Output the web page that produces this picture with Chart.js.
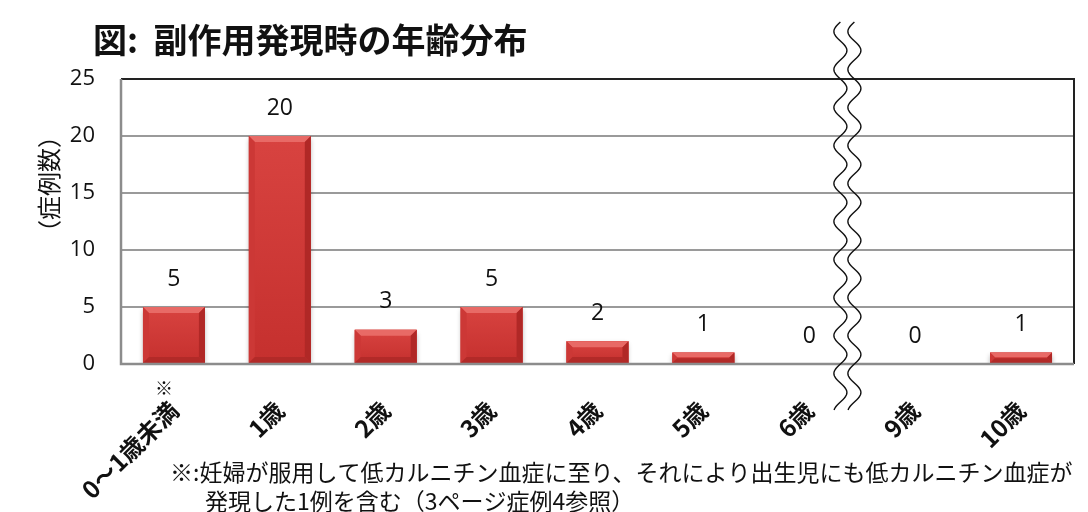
<!DOCTYPE html>
<html>
<head>
<meta charset="utf-8">
<script src="https://cdn.jsdelivr.net/npm/chart.js@4.4.1/dist/chart.umd.min.js"></script>
<style>
  html, body { margin: 0; padding: 0; background: #fff; }
  #wrap { width: 1088px; height: 512px; position: relative; }
</style>
</head>
<body>
<div id="wrap"><canvas id="chart-age"></canvas></div>
<script>
(function () {
  "use strict";

  var ageLabels = ["0～1歳未満", "1歳", "2歳", "3歳", "4歳", "5歳", "6歳", "9歳", "10歳"];
  var caseCounts = [5, 20, 3, 5, 2, 1, 0, 0, 1];
  var yTicks = [0, 5, 10, 15, 20, 25];
  var titleText = "図:  副作用発現時の年齢分布";
  var yTitleText = "（症例数）";
  var noteLines = [
    "※:妊婦が服用して低カルニチン血症に至り、それにより出生児にも低カルニチン血症が",
    "発現した1例を含む（3ページ症例4参照）"
  ];

  var JP = "'Noto Sans CJK JP', 'Noto Sans', sans-serif";
  var NUM = "'Open Sans', 'Noto Sans CJK JP', sans-serif";

  // bevelled bars, drawn over the plain fill
  var bevelBars = {
    id: "bevelBars",
    afterDatasetDraw: function (chart, args) {
      var ctx = chart.ctx;
      args.meta.data.forEach(function (bar) {
        var p = bar.getProps(["x", "y", "base", "width"], true);
        var l = p.x - p.width / 2, r = p.x + p.width / 2, t = p.y, b = p.base;
        var h = b - t;
        if (h < 1) return;
        var bv = Math.min(6, h / 2.2);
        ctx.save();
        ctx.shadowColor = "transparent";
        // face
        var g = ctx.createLinearGradient(0, t, 0, b);
        g.addColorStop(0, "#d84340");
        g.addColorStop(1, "#c5302e");
        ctx.fillStyle = g;
        ctx.fillRect(l, t, r - l, h);
        // top bevel
        ctx.fillStyle = "#e86a66";
        ctx.beginPath();
        ctx.moveTo(l, t); ctx.lineTo(r, t); ctx.lineTo(r - bv, t + bv); ctx.lineTo(l + bv, t + bv);
        ctx.closePath(); ctx.fill();
        // left bevel
        ctx.fillStyle = "#cc3836";
        ctx.beginPath();
        ctx.moveTo(l, t); ctx.lineTo(l + bv, t + bv); ctx.lineTo(l + bv, b - bv); ctx.lineTo(l, b);
        ctx.closePath(); ctx.fill();
        // right bevel
        ctx.fillStyle = "#b02826";
        ctx.beginPath();
        ctx.moveTo(r, t); ctx.lineTo(r - bv, t + bv); ctx.lineTo(r - bv, b - bv); ctx.lineTo(r, b);
        ctx.closePath(); ctx.fill();
        // bottom bevel
        ctx.fillStyle = "#b22a28";
        ctx.beginPath();
        ctx.moveTo(l, b); ctx.lineTo(l + bv, b - bv); ctx.lineTo(r - bv, b - bv); ctx.lineTo(r, b);
        ctx.closePath(); ctx.fill();
        ctx.restore();
      });
    },
    beforeDatasetDraw: function (chart) {
      var ctx = chart.ctx;
      ctx.save();
      ctx.shadowColor = "rgba(0,0,0,0.3)";
      ctx.shadowBlur = 5;
      ctx.shadowOffsetY = 3;
    },
    afterDatasetsDraw: function (chart) {
      chart.ctx.restore();
    }
  };

  var extras = {
    id: "extras",
    afterDraw: function (chart) {
      var ctx = chart.ctx;
      var area = chart.chartArea;
      var xs = chart.scales.x;
      var ys = chart.scales.y;
      ctx.save();

      // frame: dark top and right, grey left and bottom
      ctx.lineWidth = 2;
      ctx.strokeStyle = "#222";
      ctx.beginPath();
      ctx.moveTo(area.left, area.top);
      ctx.lineTo(area.right, area.top);
      ctx.lineTo(area.right, area.bottom);
      ctx.stroke();
      ctx.strokeStyle = "#8c8c8c";
      ctx.lineWidth = 2.5;
      ctx.beginPath();
      ctx.moveTo(area.left, area.top);
      ctx.lineTo(area.left, area.bottom);
      ctx.lineTo(area.right, area.bottom);
      ctx.stroke();

      // value labels
      ctx.fillStyle = "#111";
      ctx.font = "23px " + NUM;
      ctx.textAlign = "center";
      ctx.textBaseline = "middle";
      chart.getDatasetMeta(0).data.forEach(function (bar, i) {
        ctx.fillText(String(caseCounts[i]), bar.x, ys.getPixelForValue(caseCounts[i]) - 28);
      });

      // ※ mark above the first category label
      ctx.font = "18px " + JP;
      ctx.fillText("※", xs.getPixelForValue(0) - 10, area.bottom + 24);

      // title
      ctx.font = "bold 34px " + JP;
      ctx.textAlign = "left";
      ctx.fillStyle = "#111";
      ctx.fillText(titleText, 93, 40);

      // y axis title
      ctx.save();
      ctx.translate(49, 184);
      ctx.rotate(-Math.PI / 2);
      ctx.font = "24px " + JP;
      ctx.textAlign = "center";
      ctx.fillText(yTitleText, 0, 0);
      ctx.restore();

      // footnote
      ctx.font = "23px " + JP;
      ctx.textAlign = "left";
      ctx.fillText(noteLines[0], 170, 472);
      ctx.fillText(noteLines[1], 205, 501);

      // axis break between 6歳 and 9歳
      var x6 = xs.getPixelForValue(6), x9 = xs.getPixelForValue(7);
      var bx = (x6 + x9) / 2 - (x9 - x6) * 0.14;
      [bx - 7, bx + 7].forEach(function (cx) {
        ctx.strokeStyle = "#111";
        ctx.lineWidth = 1.4;
        ctx.beginPath();
        for (var y = 22; y <= 410; y += 1) {
          var xx = cx + 6.5 * Math.sin((y - 22) / 38 * Math.PI * 2 + Math.PI);
          if (y === 22) ctx.moveTo(xx, y); else ctx.lineTo(xx, y);
        }
        ctx.stroke();
      });

      ctx.restore();
    }
  };

  var canvas = document.getElementById("chart-age");
  new Chart(canvas, {
    type: "bar",
    data: {
      labels: ageLabels,
      datasets: [{
        data: caseCounts,
        backgroundColor: "#cc3432",
        borderWidth: 0,
        barPercentage: 0.585,
        categoryPercentage: 1
      }]
    },
    options: {
      responsive: true,
      maintainAspectRatio: false,
      animation: false,
      devicePixelRatio: 1,
      layout: { padding: { top: 79, right: 14, left: 0, bottom: 0 } },
      plugins: {
        legend: { display: false },
        tooltip: { enabled: false }
      },
      scales: {
        x: {
          grid: { display: false, drawTicks: false },
          border: { display: false },
          ticks: {
            color: "#111",
            font: { family: JP, size: 24, weight: "bold" },
            maxRotation: 45,
            minRotation: 45,
            padding: 32,
            autoSkip: false
          },
          afterFit: function (s) { s.height = 148; }
        },
        y: {
          min: 0,
          max: 25,
          afterBuildTicks: function (s) {
            s.ticks = yTicks.map(function (v) { return { value: v }; });
          },
          grid: { color: "#9a9a9a", lineWidth: 2, drawTicks: false },
          border: { display: false },
          ticks: {
            color: "#111",
            font: { family: NUM, size: 22 },
            padding: 26
          },
          afterFit: function (s) { s.width = 121; }
        }
      }
    },
    plugins: [bevelBars, extras]
  });
})();
</script>
</body>
</html>
